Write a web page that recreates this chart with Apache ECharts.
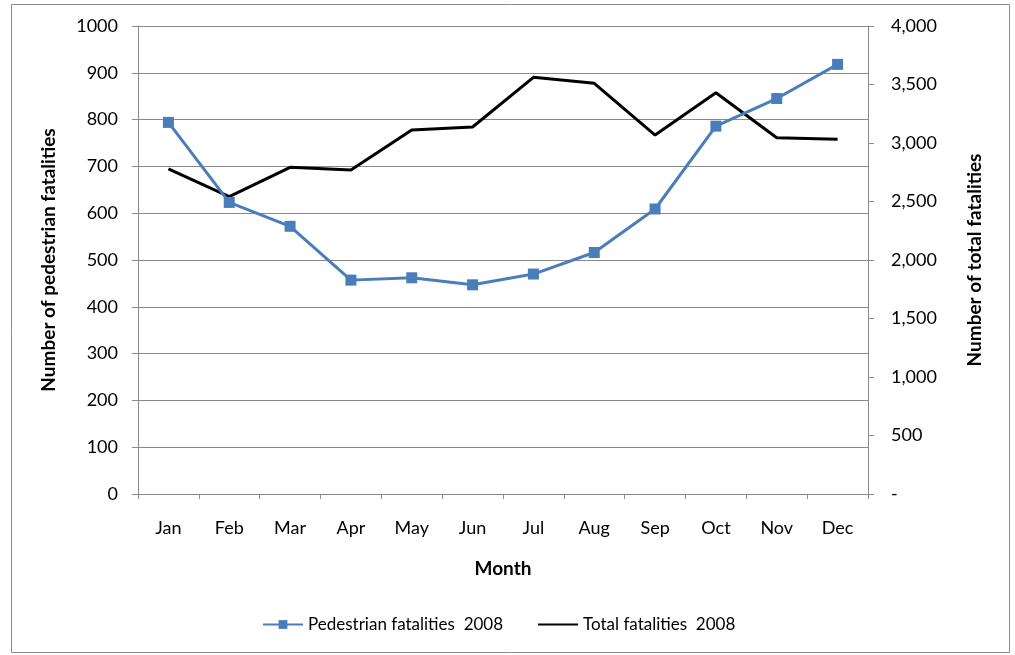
<!DOCTYPE html>
<html>
<head>
<meta charset="utf-8">
<script src="https://cdn.jsdelivr.net/npm/echarts@6/dist/echarts.min.js"></script>
<style>
  html, body { margin: 0; padding: 0; background: #ffffff; }
  #chart { width: 1015px; height: 655px; }
</style>
</head>
<body>
<div id="chart"></div>
<script>
// Monthly fatalities, 2008
const months = ['Jan', 'Feb', 'Mar', 'Apr', 'May', 'Jun', 'Jul', 'Aug', 'Sep', 'Oct', 'Nov', 'Dec'];
const pedestrianFatalities = [794, 623, 572, 457, 462, 447, 470, 516, 609, 786, 845, 918];
const totalFatalities = [2778, 2541, 2792, 2769, 3111, 3137, 3561, 3510, 3068, 3430, 3045, 3031];

const seriesNames = ['Pedestrian fatalities  2008', 'Total fatalities  2008'];
const leftAxisName = 'Number of pedestrian fatalities';
const rightAxisName = 'Number of total fatalities';
const xAxisName = 'Month';

const FONT = 'Lato, "Liberation Sans", sans-serif';
const AXIS_GRAY = '#8a8a8a';
const BLUE = '#4a7ebb';

const chart = echarts.init(document.getElementById('chart'), null, { renderer: 'canvas' });

chart.setOption({
  animation: false,
  backgroundColor: '#ffffff',
  textStyle: { fontFamily: FONT },
  graphic: [{
    type: 'rect',
    shape: { x: 11.5, y: 4.5, width: 998, height: 648 },
    style: { fill: 'none', stroke: '#8c8c8c', lineWidth: 1 },
    silent: true
  }],
  grid: { left: 138, right: 147, top: 26, bottom: 161, outerBoundsMode: 'none' },
  legend: {
    bottom: 17,
    left: 257,
    itemWidth: 40,
    itemHeight: 11,
    itemGap: 34,
    textStyle: { fontFamily: FONT, fontSize: 17, color: '#000' },
    data: [
      { name: seriesNames[0] },
      { name: seriesNames[1], itemStyle: { opacity: 0 } }
    ]
  },
  xAxis: {
    type: 'category',
    data: months,
    boundaryGap: true,
    name: xAxisName,
    nameLocation: 'middle',
    nameGap: 65,
    nameTextStyle: { fontFamily: FONT, fontSize: 19, fontWeight: 'bold', color: '#000' },
    axisLine: { lineStyle: { color: AXIS_GRAY, width: 1 } },
    axisTick: { show: true, length: 5, lineStyle: { color: AXIS_GRAY } },
    axisLabel: { fontFamily: FONT, fontSize: 18, color: '#000', margin: 25 }
  },
  yAxis: [{
    type: 'value',
    min: 0, max: 1000, interval: 100,
    position: 'left',
    name: leftAxisName,
    nameLocation: 'middle',
    nameGap: 80,
    nameRotate: 90,
    nameTextStyle: { fontFamily: FONT, fontSize: 19, fontWeight: 'bold', color: '#000' },
    axisLine: { show: true, lineStyle: { color: AXIS_GRAY, width: 1 } },
    axisTick: { show: true, length: 6, lineStyle: { color: AXIS_GRAY } },
    axisLabel: {
      fontFamily: FONT, fontSize: 18, color: '#000', margin: 20,
      formatter: v => String(v)
    },
    splitLine: { show: true, lineStyle: { color: AXIS_GRAY, width: 1 } }
  }, {
    type: 'value',
    min: 0, max: 4000, interval: 500,
    position: 'right',
    name: rightAxisName,
    nameLocation: 'middle',
    nameGap: 97,
    nameRotate: 90,
    nameTextStyle: { fontFamily: FONT, fontSize: 19, fontWeight: 'bold', color: '#000' },
    axisLine: { show: true, lineStyle: { color: AXIS_GRAY, width: 1 } },
    axisTick: { show: true, length: 6, lineStyle: { color: AXIS_GRAY } },
    axisLabel: {
      fontFamily: FONT, fontSize: 18, color: '#000', margin: 23, align: 'left',
      formatter: v => v === 0 ? '-' : v.toLocaleString('en-US')
    },
    splitLine: { show: false }
  }],
  series: [{
    name: seriesNames[0],
    type: 'line',
    yAxisIndex: 0,
    data: pedestrianFatalities,
    symbol: 'rect',
    symbolSize: 11,
    lineStyle: { color: BLUE, width: 3 },
    itemStyle: { color: BLUE },
    z: 3
  }, {
    name: seriesNames[1],
    type: 'line',
    yAxisIndex: 1,
    data: totalFatalities,
    symbol: 'none',
    lineStyle: { color: '#000000', width: 3 },
    itemStyle: { color: '#000000' },
    z: 2
  }]
});
</script>
</body>
</html>
